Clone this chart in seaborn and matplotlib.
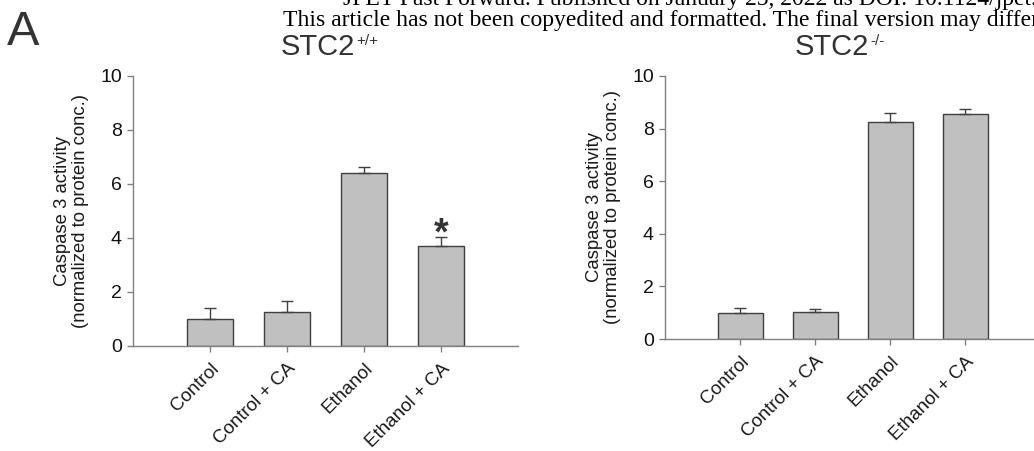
import numpy as np
import pandas as pd
import matplotlib
matplotlib.use("Agg")
import matplotlib.pyplot as plt
import seaborn as sns

categories = ["Control", "Control + CA", "Ethanol", "Ethanol + CA"]
wt_values = [1.00, 1.27, 6.40, 3.71]
wt_errors = [0.41, 0.41, 0.22, 0.31]
ko_values = [0.99, 1.03, 8.26, 8.54]
ko_errors = [0.20, 0.11, 0.32, 0.19]
yticks = [0, 2, 4, 6, 8, 10]
title_main = "STC2"
title_sups = ["+/+", "-/-"]
ylabel = "Caspase 3 activity\n(normalized to protein conc.)"
header1 = "JPET Fast Forward. Published on January 25, 2022 as DOI: 10.1124/jpet.121.000"
header2 = "This article has not been copyedited and formatted. The final version may differ"

sns.set_style("white")
plt.rcParams["font.family"] = ["Liberation Sans", "DejaVu Sans"]

W, H = 1034, 451
fig = plt.figure(figsize=(W / 100, H / 100), dpi=100)

BAR = "#c0c0c0"
EDGE = "#404040"
AX = "#808080"
TXT = "#1a1a1a"


def px_axes(x0, y_top, x1, y_bot):
    return fig.add_axes([x0 / W, 1 - y_bot / H, (x1 - x0) / W, (y_bot - y_top) / H])


panels = [
    (px_axes(133, 76, 518, 346), wt_values, wt_errors),
    (px_axes(665, 76, 1040, 339), ko_values, ko_errors),
]

for ax, vals, errs in panels:
    df = pd.DataFrame({"cat": categories, "val": vals})
    sns.barplot(data=df, x="cat", y="val", color=BAR, edgecolor=EDGE,
                linewidth=1.0, width=0.6, saturation=1, ax=ax, errorbar=None)
    ax.errorbar(np.arange(len(vals)), vals, yerr=[np.zeros(len(vals)), errs],
                fmt="none", ecolor=EDGE, elinewidth=1.0, capsize=4, capthick=1.0)
    ax.set_xlim(-1, 4)
    ax.set_ylim(0, 10)
    ax.set_yticks(yticks)
    ax.set_xlabel("")
    ax.set_ylabel(ylabel, fontsize=13.3, color=TXT, linespacing=1.1, labelpad=8)
    ax.set_xticks(range(len(categories)))
    ax.set_xticklabels(categories, rotation=45, ha="right", va="top",
                       rotation_mode="anchor", fontsize=13.5, color=TXT)
    for lab in ax.get_yticklabels():
        lab.set_fontsize(14)
        lab.set_color("#111111")
    ax.tick_params(axis="both", direction="out", length=4, width=1, color=AX,
                   bottom=True, left=True)
    ax.tick_params(axis="x", pad=6)
    ax.tick_params(axis="y", pad=4)
    for s in ["top", "right"]:
        ax.spines[s].set_visible(False)
    for s in ["left", "bottom"]:
        ax.spines[s].set_color(AX)
        ax.spines[s].set_linewidth(1.0)

# significance marker
ax0 = panels[0][0]
ax0.text(3, wt_values[3] + wt_errors[3] - 0.55, "*", ha="center", va="bottom",
         fontsize=27, fontweight="bold", color="#333333")

# titles with superscripts
fig.canvas.draw()
renderer = fig.canvas.get_renderer()
for x0, sup in zip([281, 795], title_sups):
    t = fig.text(x0 / W, 1 - 55 / H, title_main, fontsize=21, color="#333333",
                 ha="left", va="baseline")
    bb = t.get_window_extent(renderer=renderer)
    fig.text((bb.x1 + 1) / W, (bb.y1 - 1) / H, sup, fontsize=11, color="#333333",
             ha="left", va="top")

# panel letter
fig.text(7 / W, 1 - 45 / H, "A", fontsize=35, color="#333333", ha="left", va="baseline")

# header
fig.text(343 / W, 1 - 5 / H, header1, fontsize=17, family="Liberation Serif", color="black",
         ha="left", va="baseline")
fig.text(283 / W, 1 - 26 / H, header2, fontsize=17, family="Liberation Serif", color="black",
         ha="left", va="baseline")

fig.savefig("out.png", dpi=100)
